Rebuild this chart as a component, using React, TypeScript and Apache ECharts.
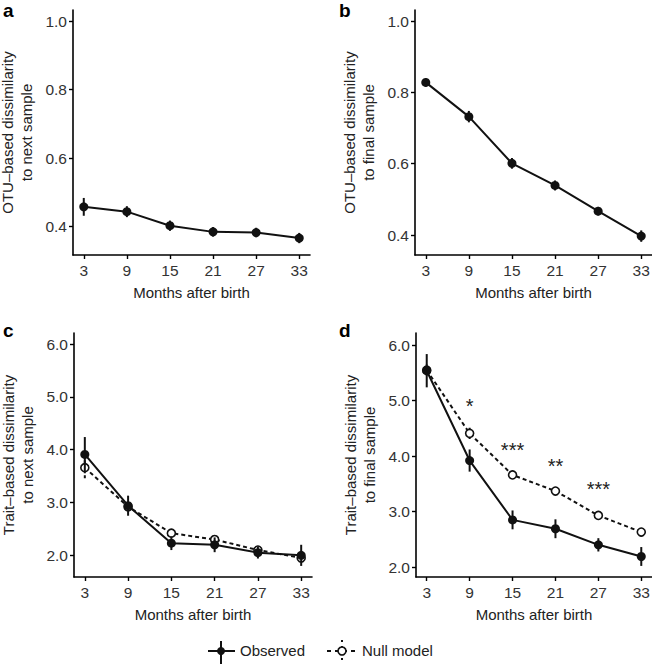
import React, { useEffect, useRef } from "react";
import * as echarts from "echarts";

const months = [3, 9, 15, 21, 27, 33];
const aMean = [0.458, 0.444, 0.403, 0.385, 0.383, 0.367];
const aErr = [0.026, 0.016, 0.015, 0.014, 0.014, 0.015];
const bMean = [0.828, 0.732, 0.601, 0.539, 0.467, 0.397];
const bErr = [0.012, 0.016, 0.015, 0.014, 0.012, 0.016];
const cObsMean = [3.91, 2.94, 2.23, 2.2, 2.05, 2.0];
const cObsErr = [0.33, 0.19, 0.13, 0.14, 0.11, 0.2];
const cNullMean = [3.66, 2.92, 2.42, 2.3, 2.1, 1.95];
const cNullErr = [0.2, 0.08, 0.06, 0.05, 0.06, 0.06];
const dObsMean = [5.54, 3.92, 2.85, 2.69, 2.4, 2.19];
const dObsErr = [0.3, 0.2, 0.17, 0.17, 0.12, 0.17];
const dNullMean = [5.55, 4.41, 3.66, 3.37, 2.93, 2.63];
const dNullErr = [0.1, 0.1, 0.07, 0.07, 0.07, 0.08];
const starMonths = [9, 15, 21, 27];
const starLabels = ["*", "***", "**", "***"];
const starY = [4.9, 4.11, 3.83, 3.4];
const yTicksOTU = [0.4, 0.6, 0.8, 1.0];
const yTicksTrait = [2, 3, 4, 5, 6];

const INK = "#111";
const FONT = "Liberation Sans, Arial, sans-serif";

function errSeries(idx: number, mean: number[], err: number[], dashed: boolean, z: number) {
  return {
    type: "custom",
    xAxisIndex: idx,
    yAxisIndex: idx,
    silent: true,
    z,
    encode: { x: 0, y: [1, 2] },
    data: months.map((m, i) => [m, mean[i] - err[i], mean[i] + err[i]]),
    renderItem: (_p: any, api: any) => {
      const lo = api.coord([api.value(0), api.value(1)]);
      const hi = api.coord([api.value(0), api.value(2)]);
      return {
        type: "line",
        shape: { x1: lo[0], y1: lo[1], x2: hi[0], y2: hi[1] },
        style: { stroke: INK, lineWidth: 2, lineDash: dashed ? [3, 2] : null },
      };
    },
  };
}

function lineSeries(idx: number, mean: number[], dashed: boolean, z: number) {
  return {
    type: "line",
    xAxisIndex: idx,
    yAxisIndex: idx,
    silent: true,
    z,
    data: months.map((m, i) => [m, mean[i]]),
    symbol: "circle",
    symbolSize: dashed ? 8 : 9,
    lineStyle: { color: INK, width: 2, type: dashed ? [4, 3] : "solid" },
    itemStyle: dashed
      ? { color: "#fff", borderColor: INK, borderWidth: 1.6 }
      : { color: INK, borderWidth: 0 },
  };
}

function xAxis(idx: number) {
  return {
    type: "value",
    gridIndex: idx,
    min: 1.5,
    max: 34.5,
    splitLine: { show: false },
    axisLine: { show: true, onZero: false, lineStyle: { color: "#000", width: 1.6 } },
    axisTick: { show: true, length: 4, customValues: months, lineStyle: { color: "#000", width: 1.4 } },
    axisLabel: { customValues: months, fontSize: 15.5, color: "#333", margin: 7, fontFamily: FONT },
    name: "Months after birth",
    nameLocation: "middle",
    nameGap: 30,
    nameTextStyle: { fontSize: 15, color: "#222", fontFamily: FONT },
  };
}

function yAxis(idx: number, min: number, max: number, ticks: number[], name: string) {
  return {
    type: "value",
    gridIndex: idx,
    min,
    max,
    splitLine: { show: false },
    axisLine: { show: true, onZero: false, lineStyle: { color: "#000", width: 1.6 } },
    axisTick: { show: true, length: 4, customValues: ticks, lineStyle: { color: "#000", width: 1.4 } },
    axisLabel: {
      customValues: ticks,
      fontSize: 15.5,
      color: "#333",
      margin: 6,
      fontFamily: FONT,
      formatter: (v: number) => v.toFixed(1),
    },
    name,
    nameLocation: "middle",
    nameRotate: 90,
    nameGap: 37,
    nameTextStyle: { fontSize: 15, color: "#222", fontFamily: FONT, lineHeight: 19 },
  };
}

export default function App() {
  const ref = useRef<HTMLDivElement>(null);
  useEffect(() => {
    document.body.style.margin = "0";
    const chart = echarts.init(ref.current!, null, { renderer: "svg" });
    const grids = [
      { left: 73, top: 10, width: 237, height: 245 },
      { left: 415, top: 10, width: 237, height: 245 },
      { left: 74, top: 333, width: 238, height: 244 },
      { left: 416, top: 333, width: 236, height: 244 },
    ].map((g) => ({ ...g, outerBoundsMode: "none", containLabel: false }));

    const panelLabel = (t: string, x: number, y: number) => ({
      type: "text",
      left: x,
      top: y,
      style: { text: t, fontSize: 19, fontWeight: "bold", fill: "#000", fontFamily: FONT },
    });

    const option: any = {
      animation: false,
      backgroundColor: "#fff",
      grid: grids,
      xAxis: [xAxis(0), xAxis(1), xAxis(2), xAxis(3)],
      yAxis: [
        yAxis(0, 0.3175, 1.0325, yTicksOTU, "OTU–based dissimilarity\nto next sample"),
        yAxis(1, 0.344, 1.031, yTicksOTU, "OTU–based dissimilarity\nto final sample"),
        yAxis(2, 1.59, 6.21, yTicksTrait, "Trait–based dissimilarity\nto next sample"),
        yAxis(3, 1.82, 6.22, yTicksTrait, "Trait–based dissimilarity\nto final sample"),
      ],
      series: [
        lineSeries(0, aMean, false, 5),
        errSeries(0, aMean, aErr, false, 4),
        lineSeries(1, bMean, false, 5),
        errSeries(1, bMean, bErr, false, 4),
        lineSeries(2, cNullMean, true, 2),
        errSeries(2, cNullMean, cNullErr, true, 1),
        lineSeries(2, cObsMean, false, 5),
        errSeries(2, cObsMean, cObsErr, false, 4),
        lineSeries(3, dNullMean, true, 2),
        errSeries(3, dNullMean, dNullErr, true, 1),
        lineSeries(3, dObsMean, false, 5),
        errSeries(3, dObsMean, dObsErr, false, 4),
        {
          type: "custom",
          xAxisIndex: 3,
          yAxisIndex: 3,
          silent: true,
          z: 6,
          data: starMonths.map((m, i) => [m, starY[i], i]),
          renderItem: (_p: any, api: any) => {
            const pt = api.coord([api.value(0), api.value(1)]);
            return {
              type: "text",
              x: pt[0],
              y: pt[1],
              style: {
                text: starLabels[api.value(2)],
                fontSize: 20,
                fill: "#222",
                fontFamily: FONT,
                align: "center",
                verticalAlign: "middle",
              },
            };
          },
        },
      ],
      graphic: [
        panelLabel("a", 3, 1),
        panelLabel("b", 339, 1),
        panelLabel("c", 3, 321),
        panelLabel("d", 339, 321),
        // legend: Observed
        { type: "line", shape: { x1: 208, y1: 651, x2: 235, y2: 651 }, style: { stroke: INK, lineWidth: 2 } },
        { type: "line", shape: { x1: 221, y1: 641, x2: 221, y2: 664 }, style: { stroke: INK, lineWidth: 2 } },
        { type: "circle", shape: { cx: 221, cy: 651, r: 4 }, style: { fill: INK } },
        {
          type: "text",
          left: 240,
          top: 643,
          style: { text: "Observed", fontSize: 15, fill: "#222", fontFamily: FONT },
        },
        // legend: Null model
        {
          type: "line",
          shape: { x1: 327, y1: 651, x2: 357, y2: 651 },
          style: { stroke: INK, lineWidth: 2, lineDash: [4, 4] },
        },
        {
          type: "line",
          shape: { x1: 342, y1: 640, x2: 342, y2: 664 },
          style: { stroke: INK, lineWidth: 2, lineDash: [2, 4] },
        },
        { type: "circle", shape: { cx: 342, cy: 651, r: 4 }, style: { fill: "#fff", stroke: INK, lineWidth: 1.6 } },
        {
          type: "text",
          left: 362,
          top: 643,
          style: { text: "Null model", fontSize: 15, fill: "#222", fontFamily: FONT },
        },
      ],
    };
    chart.setOption(option);
    return () => chart.dispose();
  }, []);
  return <div ref={ref} style={{ width: 652, height: 664 }} />;
}
